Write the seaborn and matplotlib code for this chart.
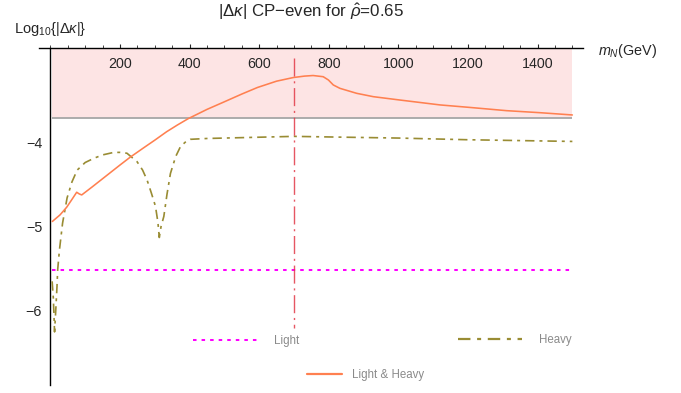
import matplotlib
matplotlib.use("Agg")
import matplotlib.pyplot as plt
import seaborn as sns
import pandas as pd
from matplotlib.ticker import MultipleLocator, FixedLocator
from matplotlib.lines import Line2D

# ---------------- data ----------------
mass_both = [5.5, 27.6, 46.8, 61, 75.6, 83, 90, 120, 160, 200, 229, 270, 300, 334,
             365, 396, 450, 497, 550, 595, 650, 698, 730, 755, 784, 799, 813, 832,
             880, 928, 1003, 1120, 1201, 1311, 1407, 1500]
dk_both = [-4.94, -4.862, -4.771, -4.684, -4.593, -4.613, -4.625, -4.53, -4.40,
           -4.27, -4.178, -4.06, -3.975, -3.875, -3.795, -3.72, -3.61, -3.525,
           -3.428, -3.35, -3.275, -3.232, -3.215, -3.208, -3.222, -3.261, -3.32,
           -3.36, -3.419, -3.459, -3.498, -3.557, -3.585, -3.625, -3.649, -3.676]

mass_heavy = [5, 8.5, 12, 14, 16, 19, 21, 26, 35, 48, 62, 77, 100, 125, 150, 182,
              200, 220, 249, 265, 278, 290, 302, 309, 313, 318, 326, 335, 345, 360,
              374, 390, 402, 450, 550, 700, 848, 1000, 1200, 1500]
dk_heavy = [-5.65, -5.85, -6.25, -6.1, -5.95, -5.71, -5.51, -5.28, -4.96, -4.66,
            -4.47, -4.33, -4.24, -4.19, -4.15, -4.12, -4.12, -4.13, -4.23, -4.33,
            -4.45, -4.6, -4.76, -4.95, -5.13, -5.0, -4.88, -4.62, -4.37, -4.17,
            -4.05, -3.99, -3.965, -3.955, -3.945, -3.93, -3.94, -3.95, -3.97, -3.99]

mass_light = [5, 1500]
dk_light = [-5.515, -5.515]

band_mass = [5, 1500]
band_low = -3.715
ref_mass = 700
ref_span = [-6.2, -3.0]

x_ticks = [200, 400, 600, 800, 1000, 1200, 1400]
y_ticks = [-6, -5, -4]
x_lim = (-33, 1530)
y_lim = (-6.88, -2.885)

labels = ["Light", "Heavy", "Light & Heavy"]
title = "|Δ$\\kappa$| CP−even for $\\hat{\\rho}$=0.65"
ylabel = "Log$_{10}${|Δ$\\kappa$|}"
xlabel = "$m_N$(GeV)"

# ---------------- style ----------------
c_both = "#ff8050"
c_heavy = "#998c33"
c_light = "#ff00ff"
c_ref = "#e23a48"
c_band = "#fde4e4"

sns.set_style("white")
plt.rcParams["font.family"] = ["Liberation Sans", "DejaVu Sans"]
plt.rcParams["mathtext.fontset"] = "custom"
plt.rcParams["mathtext.rm"] = "Liberation Sans"
plt.rcParams["mathtext.it"] = "Liberation Sans:italic"
plt.rcParams["mathtext.bf"] = "Liberation Sans:bold"

W, H = 681, 393
fig = plt.figure(figsize=(W / 100, H / 100), dpi=100)
ax = fig.add_axes([38.9 / W, 1 - 385 / H, (582.8 - 38.9) / W, (385 - 48.3) / H])

heavy_ls = (0, (5.6, 3.0, 1.8, 3.0))
light_ls = (0, (1.75, 2.5))
ref_ls = (0, (13, 3.4, 1.5, 3.4))

# band
ax.fill_between(band_mass, [band_low] * 2, [y_lim[1]] * 2, color=c_band, lw=0, zorder=0)
ax.hlines(band_low, band_mass[0], band_mass[1], color="#a6a6a6", lw=1.3, zorder=1)

df_b = pd.DataFrame({"m": mass_both, "v": dk_both})
df_h = pd.DataFrame({"m": mass_heavy, "v": dk_heavy})
df_l = pd.DataFrame({"m": mass_light, "v": dk_light})

sns.lineplot(data=df_l, x="m", y="v", ax=ax, color=c_light, lw=1.45,
             estimator=None, sort=False, zorder=3)
ax.lines[-1].set_linestyle(light_ls)
sns.lineplot(data=df_h, x="m", y="v", ax=ax, color=c_heavy, lw=1.2,
             estimator=None, sort=False, zorder=3)
ax.lines[-1].set_linestyle(heavy_ls)
sns.lineplot(data=df_b, x="m", y="v", ax=ax, color=c_both, lw=1.15,
             estimator=None, sort=False, zorder=4)

ax.vlines(ref_mass, ref_span[1], ref_span[0], color=c_ref, lw=1.0, alpha=0.85,
          linestyles=[ref_ls], zorder=5)

ax.set_xlim(*x_lim)
ax.set_ylim(*y_lim)
ax.set_xlabel("")
ax.set_ylabel("")

# axes styling (Mathematica-like)
for s in ["bottom", "right"]:
    ax.spines[s].set_visible(False)
ax.spines["left"].set_position(("data", 0))
ax.spines["left"].set_linewidth(1.0)
ax.spines["top"].set_linewidth(1.0)
ax.spines["left"].set_color("black")
ax.spines["top"].set_color("black")

ax.xaxis.set_major_locator(FixedLocator(x_ticks))
ax.xaxis.set_minor_locator(MultipleLocator(50))
ax.yaxis.set_major_locator(FixedLocator(y_ticks))
ax.yaxis.set_minor_locator(MultipleLocator(0.2))
ax.xaxis.set_ticks_position("top")
ax.tick_params(axis="x", which="both", top=True, bottom=False, labeltop=True,
               labelbottom=False, direction="out", labelsize=10.3)
ax.tick_params(axis="x", which="major", length=3, width=0.8, pad=-19.5)
ax.tick_params(axis="x", which="minor", length=2, width=0.6)
ax.tick_params(axis="y", which="major", direction="inout", length=6, width=0.8,
               labelsize=10.3, pad=3)
ax.tick_params(axis="y", which="minor", direction="in", length=2.5, width=0.6)
ax.set_xticklabels([str(t) for t in x_ticks])

# texts
fig.text(311 / W, 1 - 17 / H, title, ha="center", va="baseline", fontsize=12.2)
fig.text(14 / W, 1 - 33 / H, ylabel, ha="left", va="baseline", fontsize=10.5)
fig.text(598 / W, 1 - 55 / H, xlabel, ha="left", va="baseline", fontsize=10.4)

# legends (three separate entries placed like the reference)
def add_leg(handle, label, x_px, y_px, hl, htp):
    fig.legend([handle], [label], loc="center left",
               bbox_to_anchor=(x_px / W, 1 - y_px / H), frameon=False,
               borderpad=0, borderaxespad=0, handlelength=hl,
               handletextpad=htp, fontsize=8.3, labelcolor="#8a8a8a")

fs_px = 8.3 * 100 / 72
add_leg(Line2D([], [], color=c_light, lw=1.45, linestyle=light_ls), labels[0],
        193, 341, 67 / fs_px, 14 / fs_px)
add_leg(Line2D([], [], color=c_heavy, lw=1.6, linestyle=heavy_ls), labels[1],
        458, 340, 64 / fs_px, 17 / fs_px)
add_leg(Line2D([], [], color=c_both, lw=1.6), labels[2],
        307, 375, 35 / fs_px, 10 / fs_px)

fig.savefig("out.png", dpi=100)
